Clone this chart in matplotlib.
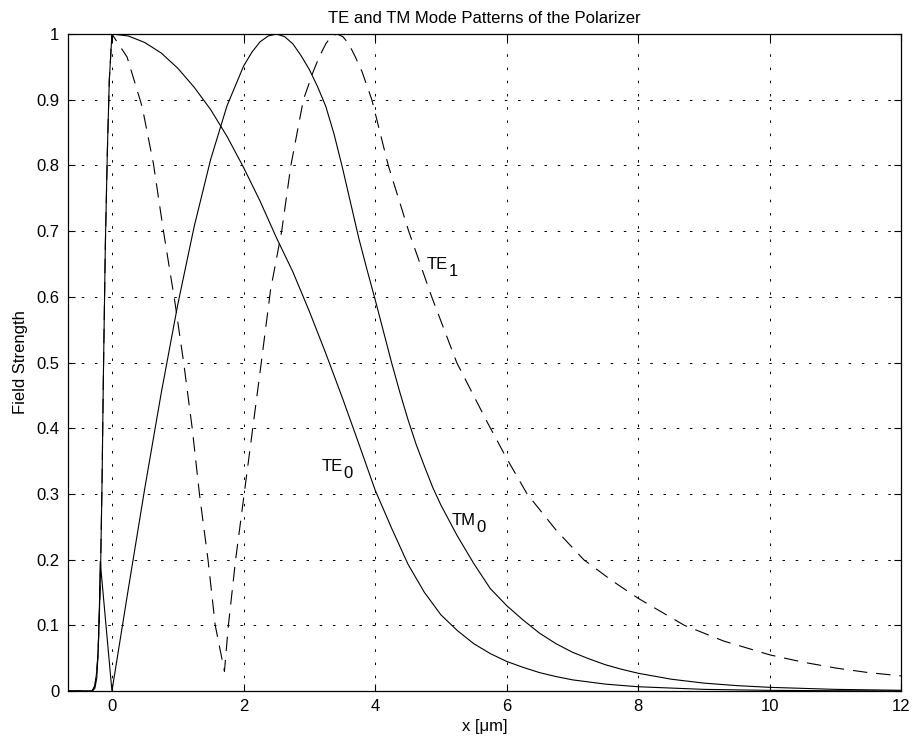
import matplotlib
matplotlib.use("Agg")
import matplotlib.pyplot as plt

plt.rcParams['font.family'] = ['Liberation Sans', 'DejaVu Sans']

# TE0 mode profile
te0_x = [-0.675, -0.40, -0.30, -0.26, -0.23, -0.21, -0.19, -0.17, -0.15, -0.13, -0.10, -0.07, -0.04, 0.0,
         0.25, 0.5, 0.75, 1.0, 1.25, 1.5, 1.75, 2.0, 2.25, 2.5, 2.75, 3.0, 3.25, 3.5, 3.75, 4.0,
         4.25, 4.5, 4.75, 5.0, 5.25, 5.5, 5.75, 6.0, 6.25, 6.5, 6.75, 7.0, 7.5, 8.0, 9.0, 10.0, 11.0, 12.0]
te0_y = [0.0, 0.0, 0.0, 0.008, 0.03, 0.06, 0.12, 0.2, 0.32, 0.48, 0.68, 0.82, 0.93, 1.0,
         0.997, 0.987, 0.971, 0.948, 0.919, 0.885, 0.844, 0.797, 0.746, 0.69, 0.638, 0.578, 0.514, 0.447, 0.377, 0.306,
         0.248, 0.193, 0.15, 0.116, 0.092, 0.072, 0.057, 0.045, 0.036, 0.028, 0.022, 0.017, 0.0105, 0.0065,
         0.0025, 0.001, 0.0004, 0.0001]

# TM0 mode profile
tm0_x = [-0.675, -0.40, -0.30, -0.26, -0.23, -0.21, -0.19, -0.178, 0.0,
         0.25, 0.5, 0.75, 1.0, 1.25, 1.5, 1.75, 2.0, 2.125, 2.25, 2.375, 2.5, 2.625, 2.75, 2.875,
         3.0, 3.125, 3.25, 3.375, 3.5, 3.625, 3.75, 3.875, 4.0, 4.125, 4.25, 4.375, 4.5, 4.625, 4.75,
         4.875, 5.0, 5.25, 5.5, 5.75, 6.0, 6.25, 6.5, 6.75, 7.0, 7.25, 7.5, 7.75, 8.0, 8.5, 9.0,
         9.5, 10.0, 11.0, 12.0]
tm0_y = [0.0, 0.0, 0.0, 0.004, 0.02, 0.06, 0.13, 0.197, 0.0,
         0.156, 0.309, 0.454, 0.588, 0.707, 0.809, 0.891, 0.951, 0.972, 0.988, 0.997, 1.0, 0.996, 0.985, 0.967,
         0.946, 0.92, 0.89, 0.848, 0.798, 0.744, 0.69, 0.642, 0.596, 0.548, 0.5, 0.455, 0.413, 0.375, 0.342,
         0.31, 0.283, 0.236, 0.194, 0.156, 0.13, 0.108, 0.088, 0.072, 0.059, 0.049, 0.04, 0.033, 0.027, 0.018, 0.012,
         0.0082, 0.0056, 0.0025, 0.0011]

# TE1 mode profile
te1_x = [-0.675, -0.40, -0.30, -0.26, -0.23, -0.21, -0.19, -0.17, -0.15, -0.13, -0.10, -0.07, -0.04, 0.0,
         0.23, 0.46, 0.63, 0.78, 0.96, 1.09, 1.22, 1.33, 1.46, 1.57, 1.71, 1.77, 1.88, 2.01, 2.14, 2.27,
         2.41, 2.58, 2.72, 2.91, 3.06, 3.15, 3.25, 3.33, 3.42, 3.51, 3.6, 3.7, 3.8, 3.95, 4.2, 4.51, 4.86,
         5.24, 5.7, 6.0, 6.31, 6.75, 7.17, 7.6, 8.0, 8.7, 9.3, 10.0, 10.5, 11.0, 11.5, 12.0]
te1_y = [0.0, 0.0, 0.0, 0.008, 0.03, 0.06, 0.12, 0.2, 0.32, 0.48, 0.68, 0.82, 0.93, 1.0,
         0.965, 0.889, 0.803, 0.702, 0.59, 0.5, 0.4, 0.3, 0.2, 0.1, 0.03, 0.1, 0.2, 0.3, 0.4, 0.5,
         0.61, 0.7, 0.8, 0.9, 0.943, 0.965, 0.985, 0.996, 1.0, 0.996, 0.985, 0.965, 0.943, 0.9, 0.8, 0.7, 0.6,
         0.5, 0.41, 0.354, 0.3, 0.245, 0.2, 0.168, 0.141, 0.1, 0.076, 0.055, 0.044, 0.035, 0.028, 0.023]

# mode labels: (main text, subscript, x, baseline y)
mode_labels = [('TE', '0', 3.19, 0.335), ('TM', '0', 5.17, 0.252), ('TE', '1', 4.79, 0.642)]

xticks = [0, 2, 4, 6, 8, 10, 12]
yticks = [0, 0.1, 0.2, 0.3, 0.4, 0.5, 0.6, 0.7, 0.8, 0.9, 1.0]
ytick_labels = ['0', '0.1', '0.2', '0.3', '0.4', '0.5', '0.6', '0.7', '0.8', '0.9', '1']

fig = plt.figure(figsize=(9.15, 7.46), dpi=100)
ax = fig.add_axes([0.0738, 0.0737, 0.9114, 0.8807])

ax.plot(te0_x, te0_y, color='k', lw=0.8)
ax.plot(tm0_x, tm0_y, color='k', lw=0.8)
ax.plot(te1_x, te1_y, color='k', lw=0.8, linestyle=(0, (13, 8)))

# subscript drawn at full size, dropped below the baseline
for main, sub, lx, ly in mode_labels:
    t = ax.text(lx, ly, main, fontsize=12, ha='left', va='baseline')
    ax.annotate(sub, xy=(1, 0), xycoords=t, xytext=(0.5, -2.8), textcoords='offset points',
                fontsize=12, ha='left', va='baseline')

ax.set_xlim(-0.675, 12)
ax.set_ylim(0, 1)
ax.set_xticks(xticks)
ax.set_yticks(yticks)
ax.set_yticklabels(ytick_labels)
ax.tick_params(direction='in', length=5, width=0.8, top=True, right=True, labelsize=12, pad=6)
ax.grid(True, color='k', lw=0.7, linestyle=(0, (2.6, 11)))
for s in ax.spines.values():
    s.set_linewidth(0.9)

ax.set_title('TE and TM Mode Patterns of the Polarizer', fontsize=12, pad=8)
ax.set_xlabel('x [\u03bcm]', fontsize=12, labelpad=3)
ax.set_ylabel('Field Strength', fontsize=12, labelpad=6)

fig.savefig('out.png', dpi=100)
